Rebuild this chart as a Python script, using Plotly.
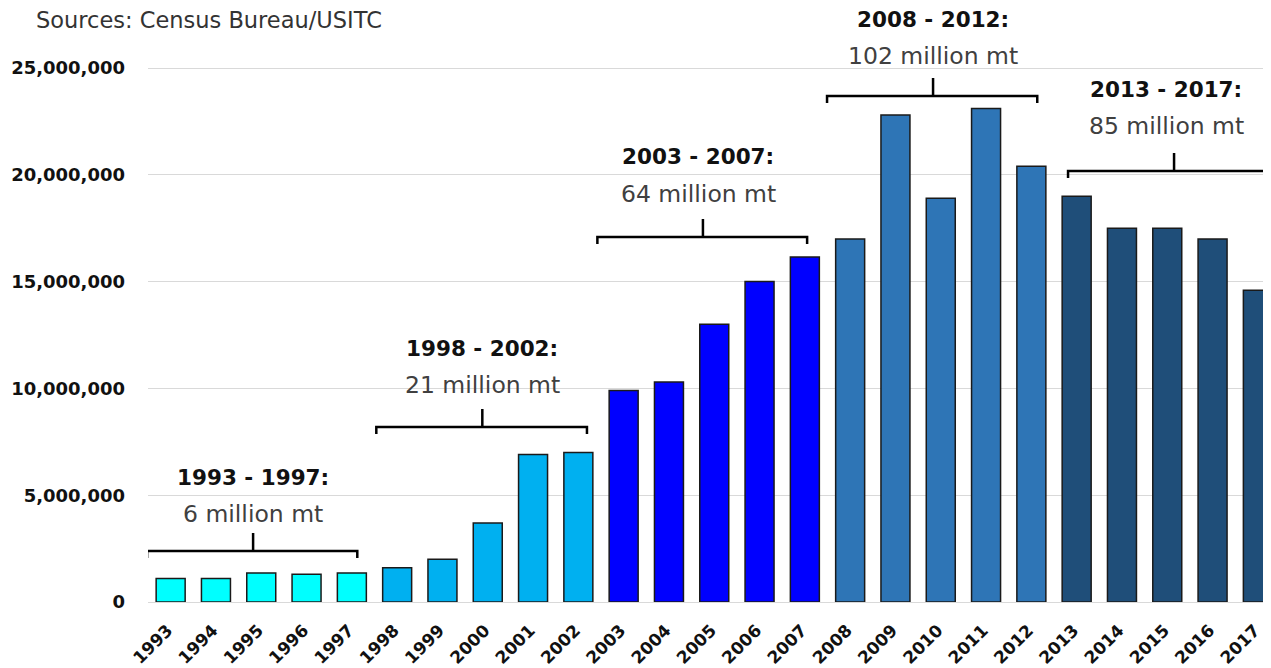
import plotly.graph_objects as go

years = list(range(1993, 2018))
values = [1.10e6, 1.10e6, 1.36e6, 1.30e6, 1.36e6,
          1.60e6, 2.00e6, 3.70e6, 6.90e6, 7.00e6,
          9.90e6, 10.30e6, 13.00e6, 15.00e6, 16.15e6,
          17.00e6, 22.80e6, 18.90e6, 23.10e6, 20.40e6,
          19.00e6, 17.50e6, 17.50e6, 17.00e6, 14.60e6]
group_colors = ["#00FFFF", "#00B0F0", "#0000FF", "#2E75B6", "#1F4E79"]
group_titles = ["1993 - 1997:", "1998 - 2002:", "2003 - 2007:", "2008 - 2012:", "2013 - 2017:"]
group_totals = ["6 million mt", "21 million mt", "64 million mt", "102 million mt", "85 million mt"]
y_ticks = [0, 5e6, 10e6, 15e6, 20e6, 25e6]

# layout of the brackets (x in years, y in axis units)
br_x0 = [1992.48, 1997.54, 2002.42, 2007.49, 2012.81]
br_x1 = [1997.12, 2002.19, 2007.05, 2012.13, 2017.6]
br_xc = [1994.82, 1999.88, 2004.75, 2009.83, 2015.15]
br_y = [2.39e6, 8.19e6, 17.09e6, 23.69e6, 20.18e6]
txt_x = [1994.82, 1999.88, 2004.65, 2009.83, 2014.98]
bold_shift = [73, 79, 80, 76, 81]
reg_shift = [37, 42, 43, 40, 45]

px_per_unit = 534 / 25e6
colors = [group_colors[(y - 1993) // 5] for y in years]

fig = go.Figure()
fig.add_trace(go.Bar(
    x=years, y=values,
    marker=dict(color=colors, line=dict(color="#1a1a1a", width=1.5)),
    width=0.64,
))

shapes = []
for i in range(5):
    yl = br_y[i]
    ye = yl - 7 / px_per_unit
    yt = yl + 18 / px_per_unit
    path = (f"M {br_x0[i]},{ye} L {br_x0[i]},{yl} L {br_x1[i]},{yl} L {br_x1[i]},{ye} "
            f"M {br_xc[i]},{yl} L {br_xc[i]},{yt}")
    shapes.append(dict(type="path", xref="x", yref="y", path=path,
                       line=dict(color="#000000", width=2.5)))

annotations = []
for i in range(5):
    annotations.append(dict(x=txt_x[i], y=br_y[i], xref="x", yref="y",
                            text=f"<b>{group_titles[i]}</b>", showarrow=False,
                            yshift=bold_shift[i], yanchor="middle",
                            font=dict(family="DejaVu Sans", size=21.5, color="#111111")))
    annotations.append(dict(x=txt_x[i], y=br_y[i], xref="x", yref="y",
                            text=group_totals[i], showarrow=False,
                            yshift=reg_shift[i], yanchor="middle",
                            font=dict(family="DejaVu Sans", size=23.5, color="#404040")))
annotations.append(dict(x=0, y=1.0, xref="paper", yref="paper",
                        xanchor="left", yanchor="middle", xshift=-114, yshift=-12,
                        text="Sources: Census Bureau/USITC", showarrow=False,
                        font=dict(family="DejaVu Sans", size=22.5, color="#333333")))

fig.update_layout(
    width=1263, height=660,
    margin=dict(l=140, r=0, t=0, b=66, autoexpand=False),
    paper_bgcolor="white", plot_bgcolor="white",
    showlegend=False,
    bargap=0.36,
    shapes=shapes, annotations=annotations,
    xaxis=dict(range=[1992.5, 2017.29], tickmode="array", tickvals=years,
               ticktext=[str(y) for y in years], tickangle=-45, automargin=False,
               ticklabelshift=-3, ticklabelstandoff=14,
               tickfont=dict(family="DejaVu Sans", size=17, color="#111111", weight="bold"),
               showgrid=False, showline=False, zeroline=False),
    yaxis=dict(range=[0, 25e6 * 594 / 534], tickmode="array", tickvals=y_ticks,
               tickformat=",d", showgrid=True, gridcolor="#d9d9d9", gridwidth=1.2,
               zeroline=True, zerolinecolor="#d9d9d9", zerolinewidth=1.2,
               ticklabelstandoff=22, automargin=False,
               tickfont=dict(family="DejaVu Sans", size=18, color="#111111", weight="bold")),
)

fig.write_html("out.html")
